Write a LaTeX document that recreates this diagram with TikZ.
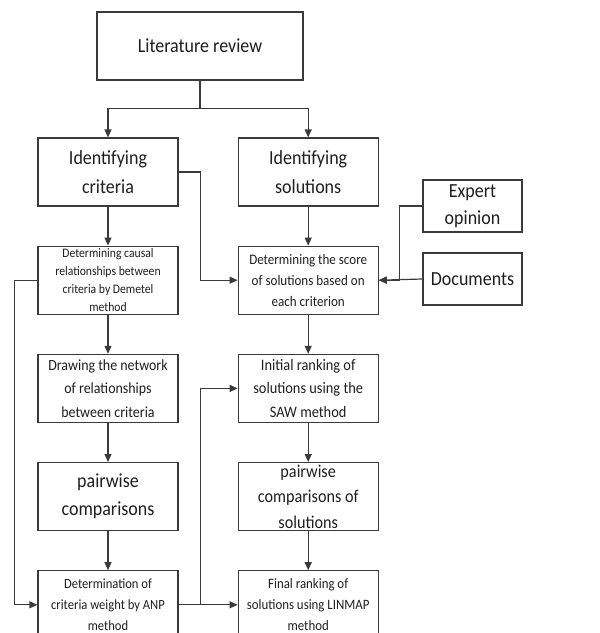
\documentclass[tikz,border=0pt]{standalone}
\usepackage{fontspec}
\setmainfont{Carlito}[FakeStretch=0.9]
\usepackage{tikz}
\usetikzlibrary{arrows.meta,positioning,calc}
\definecolor{FlowLine}{HTML}{3A3A3A}
\definecolor{FlowText}{HTML}{1E1E1E}

\begin{document}
\begin{tikzpicture}[
  x=1pt, y=1pt,
  node distance=39pt and 59pt,
  stepbox/.style={draw=FlowLine, line width=1.2pt, minimum width=140pt, minimum height=68pt, inner sep=0pt, align=center, text=FlowText, font=#1},
  stepbox/.default={\fontsize{13}{15}\selectfont},
  sidebox/.style={draw=FlowLine, line width=1.2pt, minimum width=99pt, minimum height=52pt, inner sep=0pt, align=center, text=FlowText, font=\fontsize{20}{27}\selectfont},
  link/.style={-{Triangle[length=8pt,width=7pt]}, line width=1.2pt, color=FlowLine},
  plain/.style={line width=1.2pt, color=FlowLine}
]
\useasboundingbox (0,0) rectangle (600,-633);

\node[stepbox={\fontsize{20}{24}\selectfont}, minimum width=206pt] (lit) at (200,-46) {Literature review};

% left column: criteria
\node[stepbox={\fontsize{20}{29}\selectfont}] (crit) at (108,-172) {Identifying\\criteria};
\node[stepbox={\fontsize{13}{18}\selectfont}, below=of crit] (causal) {Determining causal\\relationships between\\criteria by Demetel\\method};
\node[stepbox={\fontsize{15.5}{23.5}\selectfont}, below=of causal] (net) {Drawing the network\\of relationships\\between criteria};
\node[stepbox={\fontsize{20}{28}\selectfont}, below=of net] (pairc) {pairwise\\comparisons};
\node[stepbox={\fontsize{14}{21}\selectfont}, below=of pairc] (anp) {Determination of\\criteria weight by ANP\\method};

% right column: solutions
\node[stepbox={\fontsize{20}{29}\selectfont}, right=of crit] (sol) {Identifying\\solutions};
\node[stepbox={\fontsize{14.5}{21}\selectfont}, below=of sol] (score) {Determining the score\\of solutions based on\\each criterion};
\node[stepbox={\fontsize{16}{23.5}\selectfont}, below=of score] (init) {Initial ranking of\\solutions using the\\SAW method};
\node[stepbox={\fontsize{18}{25.5}\selectfont}, below=of init] (pairs) {pairwise\\comparisons of\\solutions};
\node[stepbox={\fontsize{14.3}{21}\selectfont}, below=of pairs] (final) {Final ranking of\\solutions using LINMAP\\method};

% inputs
\node[sidebox] (expert) at (472.5,-206) {Expert\\opinion};
\node[sidebox] (docs) at (472.5,-279) {Documents};

\draw[plain] (lit.south) -- ++(0,-28) coordinate (split);
\draw[link] (split) -| (crit.north);
\draw[link] (split) -| (sol.north);

\draw[link] (crit) -- (causal);
\draw[link] (causal) -- (net);
\draw[link] (net) -- (pairc);
\draw[link] (pairc) -- (anp);

\draw[link] (sol) -- (score);
\draw[link] (score) -- (init);
\draw[link] (init) -- (pairs);
\draw[link] (pairs) -- (final);

\draw[link] (crit.east) -- ++(22,0) |- (score.west);
\draw[link] (expert.west) -- ++(-23,0) |- (score.east);
\draw[link] (docs.west) -- (score.east);
\draw[link] (causal.west) -- ++(-23,0) |- (anp.west);
\draw[link] (anp.east) -- ++(22,0) |- (init.west);
\draw[link] (anp.east) -- (final.west);
\end{tikzpicture}
\end{document}
